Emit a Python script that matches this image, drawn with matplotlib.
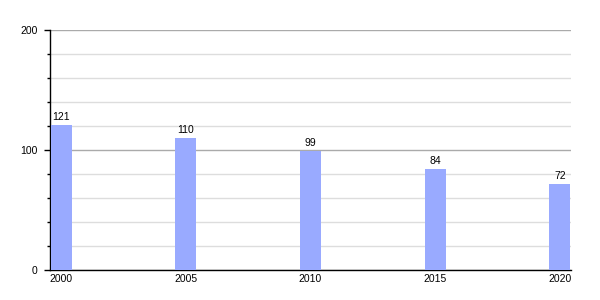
import matplotlib
matplotlib.use("Agg")
import matplotlib.pyplot as plt
from matplotlib.ticker import MultipleLocator

years = [2000, 2005, 2010, 2015, 2020]
values = [121, 110, 99, 84, 72]

plt.rcParams["font.family"] = ["Liberation Sans", "DejaVu Sans"]

fig = plt.figure(figsize=(6, 3), dpi=100)
ax = fig.add_axes([0.0833, 0.1, 0.8684, 0.8])

bars = ax.bar(years, values, width=0.85, color="#99aaff", zorder=3)
ax.bar_label(bars, labels=[str(v) for v in values], padding=2, fontsize=7.5)

ax.set_xlim(1999.55, 2020.45)
ax.set_ylim(0, 200)
ax.set_xticks(years)
ax.set_xticklabels([str(y) for y in years])
ax.yaxis.set_major_locator(MultipleLocator(100))
ax.yaxis.set_minor_locator(MultipleLocator(20))

ax.grid(True, which="major", axis="y", color="#aaaaaa", lw=1, zorder=1)
ax.grid(True, which="minor", axis="y", color="#dddddd", lw=1, zorder=1)

for s in ["top", "right"]:
    ax.spines[s].set_visible(False)
ax.spines["left"].set_linewidth(1)
ax.spines["bottom"].set_linewidth(1)

ax.tick_params(axis="x", length=0, pad=3, labelsize=7.5)
ax.tick_params(axis="y", which="major", length=4, width=1, pad=5, labelsize=7.5)
ax.tick_params(axis="y", which="minor", length=2.5, width=1)

fig.savefig("out.png", dpi=100)
